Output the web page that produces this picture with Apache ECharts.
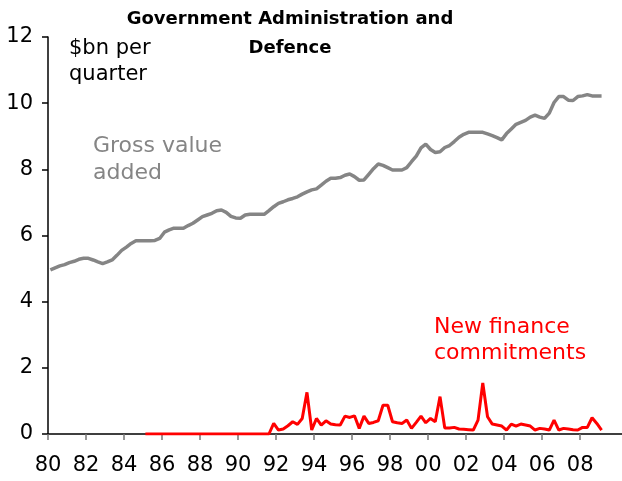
<!DOCTYPE html>
<html>
<head>
<meta charset="utf-8">
<script src="https://cdn.jsdelivr.net/npm/echarts@6/dist/echarts.min.js"></script>
<style>
  html, body { margin: 0; padding: 0; background: #fff; }
  #chart { width: 622px; height: 481px; }
</style>
</head>
<body>
<div id="chart"></div>
<script>
// quarterly series, 1980 Q1 onwards ($bn per quarter)
const startYear = 1980;
const grossValueAdded = [
    4.96, 5.02, 5.08, 5.12,
    5.18, 5.22, 5.28, 5.31,
    5.31, 5.26, 5.20, 5.15,
    5.20, 5.26, 5.40, 5.55,
    5.65, 5.76, 5.84, 5.84,
    5.84, 5.84, 5.85, 5.91,
    6.10, 6.17, 6.22, 6.22,
    6.22, 6.30, 6.37, 6.47,
    6.57, 6.62, 6.67, 6.75,
    6.77, 6.70, 6.58, 6.53,
    6.52, 6.62, 6.64, 6.64,
    6.64, 6.64, 6.75, 6.87,
    6.97, 7.02, 7.08, 7.12,
    7.17, 7.25, 7.32, 7.38,
    7.41, 7.52, 7.64, 7.73,
    7.73, 7.75, 7.82, 7.86,
    7.78, 7.67, 7.68, 7.85,
    8.02, 8.16, 8.12, 8.05,
    7.98, 7.98, 7.98, 8.05,
    8.23, 8.40, 8.65, 8.76,
    8.60, 8.51, 8.53, 8.66,
    8.72, 8.84, 8.97, 9.06,
    9.12, 9.12, 9.12, 9.12,
    9.07, 9.02, 8.96, 8.89,
    9.08, 9.22, 9.36, 9.42,
    9.48, 9.58, 9.64, 9.58,
    9.54, 9.70, 10.02, 10.20,
    10.20, 10.09, 10.08, 10.20,
    10.22, 10.26, 10.22, 10.22,
    10.22
];

// new finance commitments, 1985 Q1 onwards
const financeStartYear = 1985;
const newFinanceCommitments = [
    0, 0, 0, 0,
    0, 0, 0, 0,
    0, 0, 0, 0,
    0, 0, 0, 0,
    0, 0, 0, 0,
    0, 0, 0, 0,
    0, 0, 0, 0.32,
    0.12, 0.15, 0.25, 0.37,
    0.29, 0.47, 1.26, 0.12,
    0.47, 0.27, 0.40, 0.30,
    0.28, 0.27, 0.54, 0.50,
    0.55, 0.17, 0.54, 0.32,
    0.35, 0.40, 0.87, 0.87,
    0.37, 0.34, 0.32, 0.42,
    0.17, 0.35, 0.54, 0.34,
    0.47, 0.37, 1.13, 0.18,
    0.18, 0.20, 0.15, 0.14,
    0.13, 0.12, 0.42, 1.54,
    0.52, 0.30, 0.27, 0.24,
    0.12, 0.30, 0.24, 0.30,
    0.27, 0.24, 0.12, 0.17,
    0.15, 0.12, 0.42, 0.12,
    0.17, 0.15, 0.13, 0.12,
    0.20, 0.20, 0.49, 0.32,
    0.12
];

const yearTicks = [1980, 1982, 1984, 1986, 1988, 1990, 1992, 1994, 1996, 1998, 2000, 2002, 2004, 2006, 2008];

// plot each quarter at its middle
function toPoints(values, firstYear) {
    return values.map((v, i) => [firstYear + i / 4 + 0.125, v]);
}

var chart = echarts.init(document.getElementById('chart'));

var option = {
    animation: false,
    textStyle: { fontFamily: 'DejaVu Sans' },
    title: {
        text: 'Government Administration and\nDefence',
        left: 285,
        top: 0,
        textAlign: 'center',
        textStyle: {
            fontFamily: 'DejaVu Sans',
            fontWeight: 'bold',
            fontSize: 18,
            lineHeight: 29,
            color: '#000'
        }
    },
    grid: {
        left: 48,
        right: 0,
        top: 37,
        bottom: 47
    },
    xAxis: {
        type: 'value',
        min: 1980,
        max: 2010.2,
        splitLine: { show: false },
        axisLine: { lineStyle: { color: '#000', width: 1.5 } },
        axisTick: {
            customValues: yearTicks,
            length: 6,
            lineStyle: { color: '#777', width: 1.5 }
        },
        axisLabel: {
            customValues: yearTicks,
            margin: 21,
            fontSize: 21,
            color: '#000',
            formatter: function (v) { return String(v).slice(2); }
        }
    },
    yAxis: {
        type: 'value',
        min: 0,
        max: 12,
        interval: 2,
        splitLine: { show: false },
        axisLine: { show: true, lineStyle: { color: '#000', width: 1.5 } },
        axisTick: { show: true, length: 6, lineStyle: { color: '#000', width: 1.5 } },
        axisLabel: { margin: 15, fontSize: 21, color: '#000' }
    },
    series: [
        {
            name: 'Gross value added',
            type: 'line',
            data: toPoints(grossValueAdded, startYear),
            showSymbol: false,
            lineStyle: { color: '#858585', width: 3.5 },
            itemStyle: { color: '#858585' }
        },
        {
            name: 'New finance commitments',
            type: 'line',
            data: toPoints(newFinanceCommitments, financeStartYear),
            showSymbol: false,
            lineStyle: { color: '#ff0000', width: 3 },
            itemStyle: { color: '#ff0000' }
        }
    ],
    graphic: [
        {
            type: 'text', left: 69, top: 36,
            style: { text: '$bn per\nquarter', font: '21px "DejaVu Sans"', lineHeight: 26, fill: '#000' }
        },
        {
            type: 'text', left: 93, top: 133,
            style: { text: 'Gross value\nadded', font: '22px "DejaVu Sans"', lineHeight: 27, fill: '#858585' }
        },
        {
            type: 'text', left: 434, top: 314,
            style: { text: 'New finance\ncommitments', font: '22px "DejaVu Sans"', lineHeight: 26, fill: '#ff0000' }
        }
    ]
};

chart.setOption(option);
</script>
</body>
</html>
